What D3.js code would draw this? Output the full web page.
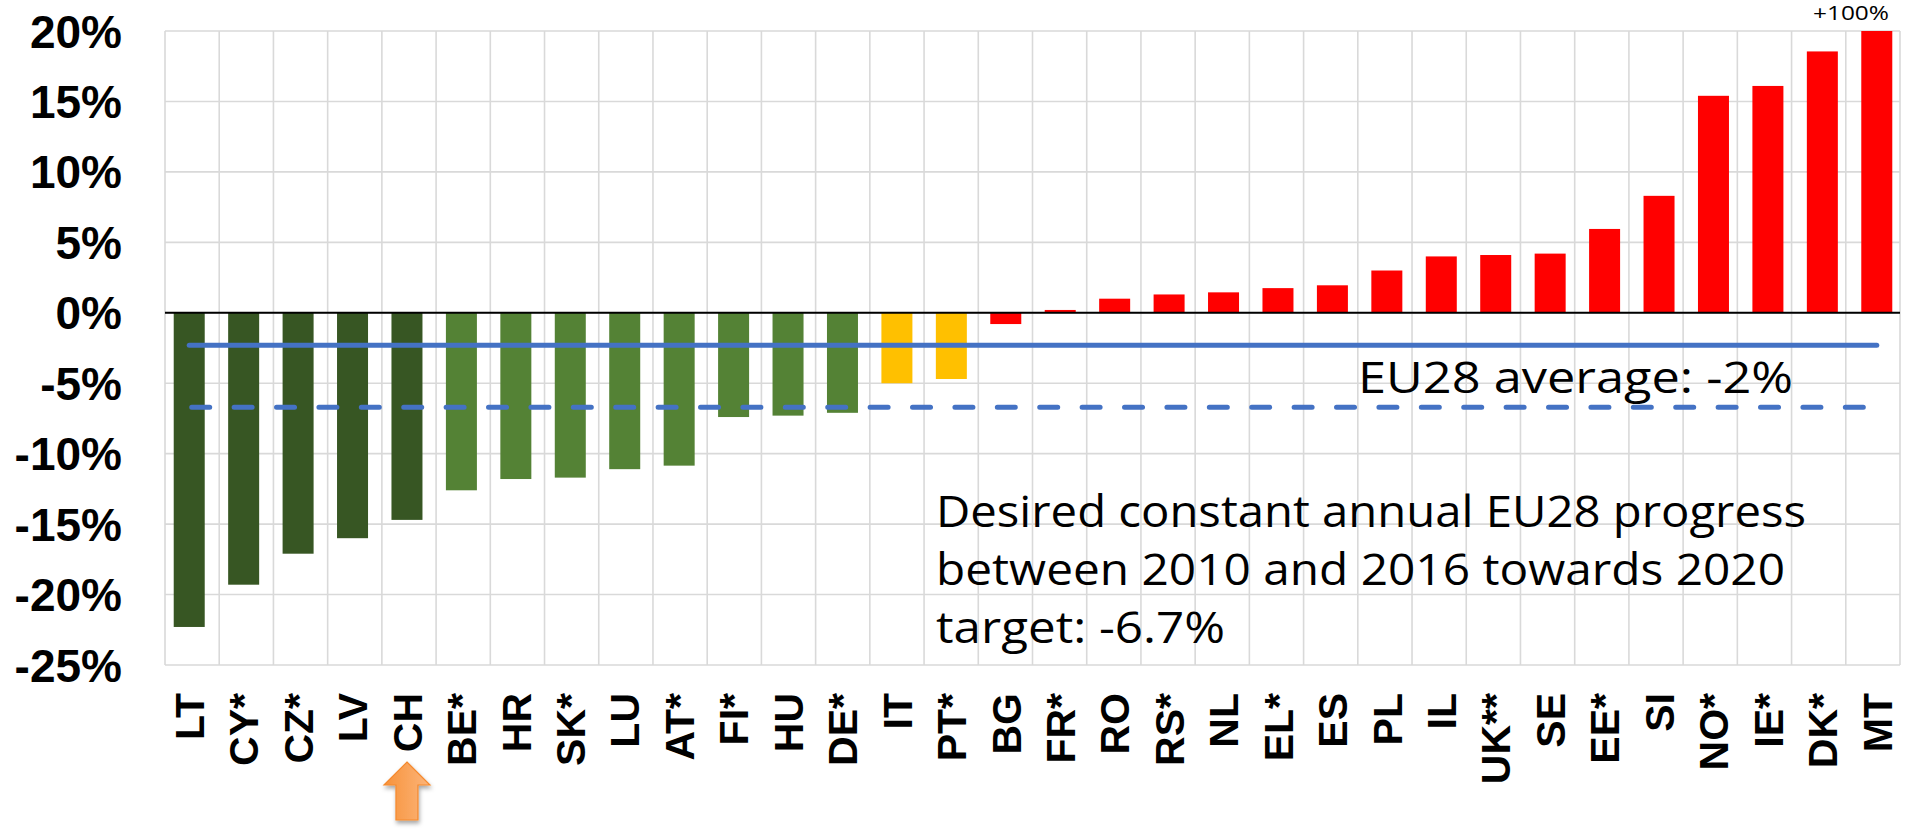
<!DOCTYPE html>
<html>
<head>
<meta charset="utf-8">
<script src="https://cdn.jsdelivr.net/npm/d3@7"></script>
<style>
  html, body { margin: 0; padding: 0; background: #ffffff; }
  svg { display: block; }
</style>
</head>
<body>
<svg id="chart" width="1905" height="832"></svg>
<script>
// ---- data ----
const categories = ["LT","CY*","CZ*","LV","CH","BE*","HR","SK*","LU","AT*","FI*","HU","DE*","IT","PT*","BG","FR*","RO","RS*","NL","EL*","ES","PL","IL","UK**","SE","EE*","SI","NO*","IE*","DK*","MT"];
const values = [-22.3,-19.3,-17.1,-16.0,-14.7,-12.6,-11.8,-11.7,-11.1,-10.85,-7.4,-7.3,-7.1,-5.0,-4.7,-0.8,0.2,1.0,1.3,1.45,1.75,1.95,3.0,4.0,4.1,4.2,5.95,8.3,15.4,16.1,18.55,100];
const groups = ["dark","dark","dark","dark","dark","light","light","light","light","light","light","light","light","yellow","yellow","red","red","red","red","red","red","red","red","red","red","red","red","red","red","red","red","red"];
const yTickValues = [20,15,10,5,0,-5,-10,-15,-20,-25];
const yTickLabels = ["20%","15%","10%","5%","0%","-5%","-10%","-15%","-20%","-25%"];
const euAverage = [-2.3];
const targetProgress = [-6.7];
const averageLabel = ["EU28 average: -2%"];
const targetLabel = ["Desired constant annual EU28 progress","between 2010 and 2016 towards 2020","target: -6.7%"];
const overflowLabel = ["+100%"];
const highlighted = ["CH"];

const groupColor = { dark: "#375623", light: "#548235", yellow: "#FFC000", red: "#FF0000" };

// ---- layout ----
const svg = d3.select("#chart");
const plotLeft = 165, plotRight = 1900, plotTop = 31, plotBottom = 665;

const y = d3.scaleLinear().domain([-25, 20]).range([plotBottom, plotTop]).clamp(true);
const xGrid = d3.scaleBand().domain(categories).range([plotLeft, plotRight]);
const x = d3.scaleBand().domain(categories).range([162, 1904]);
const barW = 31;
const cx = c => x(c) + x.bandwidth() / 2;

const defs = svg.append("defs");
const grad = defs.append("linearGradient").attr("id", "arrowGrad").attr("x1", "0").attr("x2", "1").attr("y1", "0").attr("y2", "0");
grad.append("stop").attr("offset", "0").attr("stop-color", "#F7923A");
grad.append("stop").attr("offset", "1").attr("stop-color", "#FCB57A");
const filt = defs.append("filter").attr("id", "shadow").attr("x", "-50%").attr("y", "-50%").attr("width", "200%").attr("height", "200%");
filt.append("feDropShadow").attr("dx", 1).attr("dy", 3).attr("stdDeviation", 2).attr("flood-color", "#000").attr("flood-opacity", 0.35);

// grid: horizontal
svg.append("g").selectAll("line").data(yTickValues).join("line")
  .attr("x1", plotLeft).attr("x2", plotRight)
  .attr("y1", d => y(d)).attr("y2", d => y(d))
  .attr("stroke", "#d9d9d9").attr("stroke-width", 1.6);
// grid: vertical
const vBounds = categories.map(c => xGrid(c)).concat([plotRight]);
svg.append("g").selectAll("line").data(vBounds).join("line")
  .attr("x1", d => d).attr("x2", d => d)
  .attr("y1", plotTop).attr("y2", plotBottom)
  .attr("stroke", "#d9d9d9").attr("stroke-width", 1.6);

// y-axis labels
svg.append("g").selectAll("text").data(yTickValues).join("text")
  .attr("x", 122).attr("y", d => y(d)).attr("dy", "0.36em")
  .attr("text-anchor", "end")
  .attr("font-family", "'Liberation Sans', Arial, sans-serif")
  .attr("font-weight", "bold").attr("font-size", 46).attr("fill", "#000")
  .text((d, i) => yTickLabels[i]);

// bars
svg.append("g").selectAll("rect").data(categories).join("rect")
  .attr("x", c => cx(c) - barW / 2)
  .attr("width", barW)
  .attr("y", (c, i) => y(Math.max(0, values[i])))
  .attr("height", (c, i) => Math.abs(y(values[i]) - y(0)))
  .attr("fill", (c, i) => groupColor[groups[i]]);

// zero line
svg.append("line").attr("x1", plotLeft).attr("x2", plotRight)
  .attr("y1", y(0)).attr("y2", y(0)).attr("stroke", "#000").attr("stroke-width", 2);

// reference lines
const first = categories[0], last = categories[categories.length - 1];
svg.append("line").datum(euAverage[0])
  .attr("x1", cx(first)).attr("x2", cx(last))
  .attr("y1", d => y(d)).attr("y2", d => y(d))
  .attr("stroke", "#4472C4").attr("stroke-width", 5).attr("stroke-linecap", "round");
svg.append("line").datum(targetProgress[0])
  .attr("x1", cx(first) + 2.5).attr("x2", cx(last))
  .attr("y1", d => y(d)).attr("y2", d => y(d))
  .attr("stroke", "#4472C4").attr("stroke-width", 5).attr("stroke-linecap", "round")
  .attr("stroke-dasharray", "18 24.4");

// annotation texts
const annFont = "'Open Sans', 'Noto Sans', sans-serif";
svg.append("text").attr("x", 1358).attr("y", 393)
  .attr("font-family", annFont).attr("font-size", 44).attr("fill", "#000")
  .attr("textLength", 435).attr("lengthAdjust", "spacingAndGlyphs")
  .text(averageLabel[0]);

const lineWidths = [870, 849, 289];
svg.append("g").selectAll("text").data(targetLabel).join("text")
  .attr("x", 936).attr("y", (d, i) => 527 + i * 58)
  .attr("font-family", annFont).attr("font-size", 44).attr("fill", "#000")
  .attr("textLength", (d, i) => lineWidths[i]).attr("lengthAdjust", "spacingAndGlyphs")
  .text(d => d);

svg.append("text").attr("x", 1813).attr("y", 20)
  .attr("font-family", annFont).attr("font-size", 20).attr("fill", "#000")
  .attr("textLength", 76).attr("lengthAdjust", "spacingAndGlyphs")
  .text(overflowLabel[0]);

// x-axis labels (rotated)
svg.append("g").selectAll("text").data(categories).join("text")
  .attr("transform", c => `translate(${cx(c)},693) rotate(-90)`)
  .attr("dy", "0.36em")
  .attr("text-anchor", "end")
  .attr("font-family", "'Liberation Sans', Arial, sans-serif")
  .attr("font-weight", "bold").attr("font-size", 41).attr("fill", "#000")
  .text(c => c);

// highlight arrow under CH
svg.append("g").selectAll("path").data(highlighted).join("path")
  .attr("transform", c => `translate(${cx(c)},0)`)
  .attr("d", "M0,762 L23,785 L11,785 L11,820 L-11,820 L-11,785 L-23,785 Z")
  .attr("fill", "url(#arrowGrad)").attr("stroke", "#F58A2E").attr("stroke-width", 1.2)
  .attr("filter", "url(#shadow)");
</script>
</body>
</html>
